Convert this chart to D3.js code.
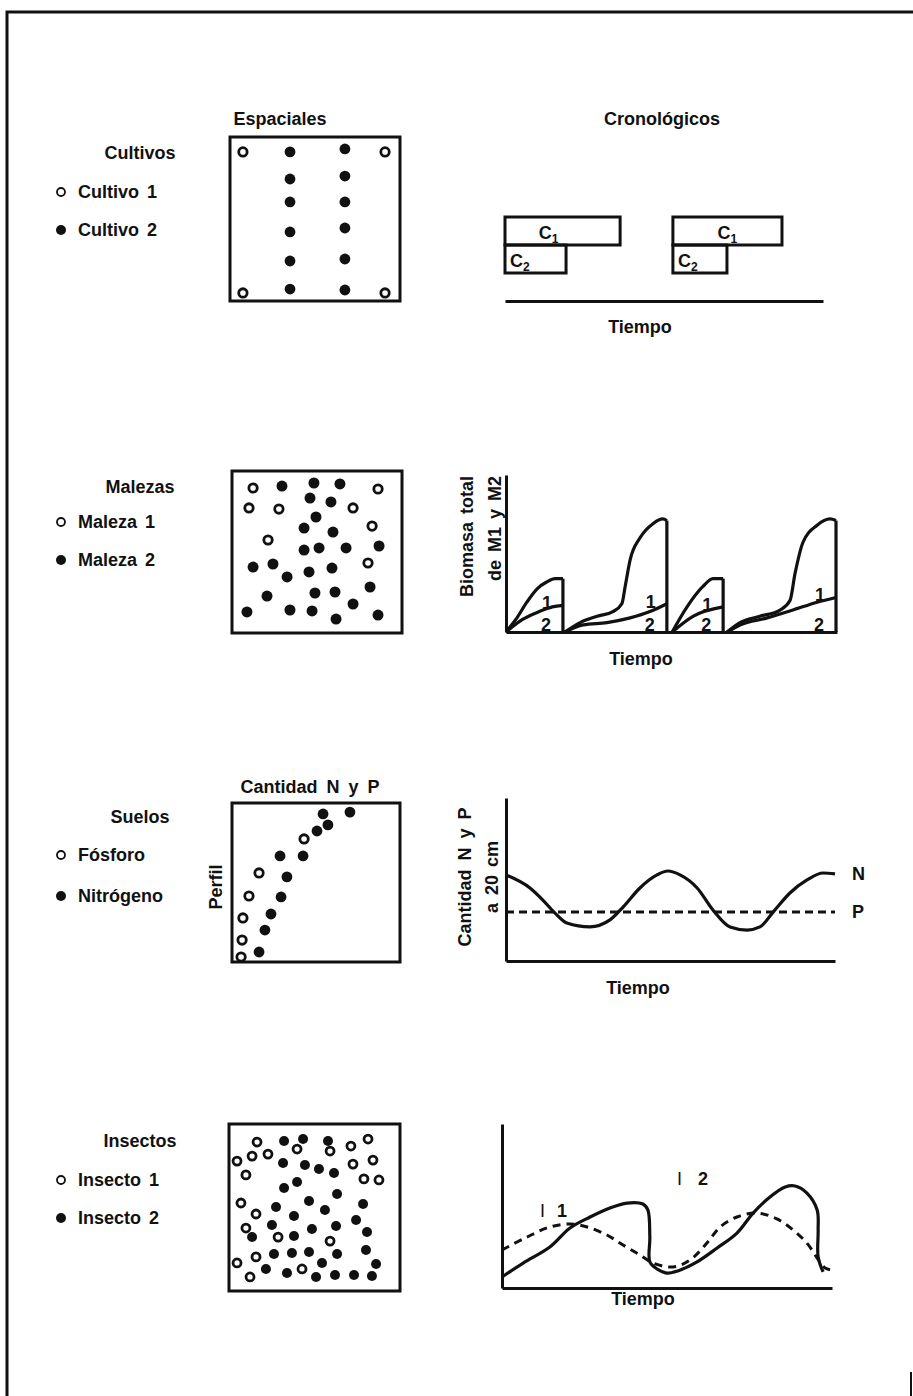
<!DOCTYPE HTML>
<html lang="es">
<head>
    <meta charset="utf-8" />
    <title>Patrones espaciales y cronológicos</title>
    <style>
        body { margin: 0; background: #fff; }
        svg text { font-family: 'Liberation Sans', Arial, sans-serif; font-weight: bold; font-size: 18px; fill: #111; }
    </style>
</head>
<body>
<div id="playD3"></div>
<script src="https://d3js.org/d3.v7.min.js"></script>
<script>
    // ---- data ----
    const rowTitles = ['Cultivos', 'Malezas', 'Suelos', 'Insectos'];
    const openNames = ['Cultivo 1', 'Maleza 1', 'Fósforo', 'Insecto 1'];
    const filledNames = ['Cultivo 2', 'Maleza 2', 'Nitrógeno', 'Insecto 2'];

    // Cultivos, spatial arrangement (0-100 plot units)
    const cultivo1 = [[7.6, 90.9], [91.2, 90.9], [7.6, 4.9], [91.2, 4.9]];
    const cultivo2 = [[35.3, 90.9], [35.3, 74.4], [35.3, 60.4], [35.3, 42.1], [35.3, 24.4], [35.3, 7.3],
                      [67.6, 92.7], [67.6, 76.2], [67.6, 60.4], [67.6, 44.5], [67.6, 25.6], [67.6, 6.7]];
    // Cultivos, calendar (time units 0-100)
    const cropNames = ['C1', 'C2'];
    const c1Start = [0, 52.8];
    const c1End = [36.2, 87.1];
    const c2Start = [0, 52.8];
    const c2End = [19.2, 69.8];

    // Malezas, spatial
    const maleza1 = [[12.4, 89.5], [85.9, 88.9], [10, 77.2], [27.6, 76.5], [71.2, 77.2], [82.4, 66], [21.2, 57.4], [80, 43.2]];
    const maleza2 = [[29.4, 90.7], [48.2, 92.6], [63.5, 92], [45.9, 83.3], [58.2, 80.9], [49.4, 71.6], [42.4, 64.8],
                     [59.4, 62.3], [42.4, 51.2], [51.2, 52.5], [67.1, 52.5], [86.5, 53.7], [12.4, 40.7], [24.1, 42.6],
                     [32.4, 34.6], [45.3, 37.7], [58.8, 40.1], [81.2, 28.4], [20.6, 22.8], [48.8, 24.7], [60.6, 25.3],
                     [71.2, 17.9], [8.8, 13], [34.1, 14.2], [47.1, 13.6], [61.2, 8.6], [85.9, 11.1]];
    // Malezas, biomass per cycle: total M1+M2 and M2
    const totalCycle1 = [[0, 0], [3.3, 9], [6.3, 19], [9.4, 27.5], [12.4, 32], [14.8, 34], [17.2, 34]];
    const m2Cycle1 = [[0, 0], [5, 8], [10, 13], [14, 16], [17.2, 17]];
    const totalCycle2 = [[17.8, 0], [22.4, 6], [27.5, 10], [32.3, 13], [35, 18], [36, 29], [37.5, 46], [40.5, 60], [44.4, 69], [47.4, 72], [48.6, 71]];
    const m2Cycle2 = [[17.8, 0], [23.3, 4.5], [30.5, 6], [37.5, 9], [43.5, 13], [48.6, 18]];
    const totalCycle3 = [[50.2, 0], [54.7, 16], [59.5, 29], [62.5, 34], [65.6, 34]];
    const m2Cycle3 = [[50.2, 0], [56.5, 10], [65.6, 16]];
    const totalCycle4 = [[66.8, 0], [70.7, 6], [76.7, 10], [82.8, 14], [85.8, 20], [87.3, 37], [89.7, 57], [94, 68], [97.9, 72], [99.7, 71]];
    const m2Cycle4 = [[66.8, 0], [70.7, 4.5], [78.9, 9], [86.7, 14], [94, 19], [99.7, 22]];

    // Suelos, profile (amount vs depth)
    const fosforo = [[5.4, 3.1], [6, 13.8], [6.5, 27.7], [10.1, 41.5], [16.1, 56], [42.9, 77.4]];
    const nitrogeno = [[16.1, 6.3], [19.6, 20.1], [23.2, 30.2], [29.2, 40.9], [32.7, 53.5], [28.6, 66.7], [42.3, 66.7],
                       [50.6, 82.4], [57.1, 86.2], [54.2, 93.1], [70.2, 94.3]];
    // Suelos, amount at 20 cm over time
    const nTime = [0, 7.3, 11.2, 14.9, 18.5, 25.5, 31.6, 35.6, 40.7, 45.9, 49.2, 52.9, 58.1, 62.9, 68.1, 73.3, 77.2, 81.2, 86.3, 91.5, 96.4, 100];
    const nAmount = [52.8, 44.8, 37.4, 29.4, 23.3, 20.9, 25.2, 33.1, 44.8, 52.8, 55.2, 52.8, 44.8, 31.3, 20.9, 19, 20.9, 30, 41.7, 49.7, 54, 53.4];
    const pTime = [0, 100];
    const pAmount = [30, 30];

    // Insectos, spatial
    const insecto1 = [[16.4, 89.2], [4.7, 77.8], [13.5, 80.8], [22.8, 82], [9.9, 69.5], [39.8, 85], [59.1, 83.8], [71.3, 86.8],
                      [81.3, 91], [84.2, 78.4], [72.5, 76], [78.9, 67.1], [87.7, 66.5], [7, 52.7], [15.8, 46.1], [9.9, 37.7],
                      [28.7, 32.3], [59.1, 29.9], [15.8, 20.4], [4.7, 16.8], [12.3, 8.4], [42.7, 13.2]];
    const insecto2 = [[32.2, 89.8], [43.3, 91], [57.9, 89.8], [31.6, 76.6], [44.4, 75.4], [52.6, 73.1], [61.4, 70.7], [39.8, 65.3],
                      [32.2, 61.7], [63.2, 58.1], [46.8, 53.9], [78.4, 52.1], [27.5, 50.3], [56.1, 48.5], [38, 44.9], [74.3, 42.5],
                      [25.1, 39.5], [62.6, 38.9], [48.5, 37.1], [80.7, 35.3], [13.5, 32.3], [38, 32.9], [26.3, 22.2], [36.8, 22.8],
                      [46.8, 23.4], [63.2, 22.2], [80.1, 24.6], [54.4, 16.8], [86, 16.2], [21.6, 13.2], [33.9, 10.8], [50.9, 8.4],
                      [62, 9.6], [73.1, 9.6], [83.6, 9]];
    // Insectos, population over time
    const poblacion1 = [[0, 6.7], [6.4, 15.2], [14.5, 25], [20.6, 36.6], [26.7, 43.3], [32.7, 48.8], [37.9, 51.8], [42.7, 51.2],
                        [44.2, 47.6], [44.8, 31.1], [44.8, 15.9], [47, 11.6], [50, 9.1], [53.3, 10.4], [59.1, 15.9], [65.2, 24.4],
                        [71.2, 33.5], [76.1, 45.7], [81.2, 55.5], [85.8, 61.6], [88.8, 62.2], [92.4, 57.9], [95.5, 47.6],
                        [95.8, 35.4], [95.8, 18.9], [97.3, 9.8]];
    const poblacion2 = [[0, 23.2], [7.6, 31.1], [14.5, 37.2], [20.6, 39], [25.8, 37.2], [31.8, 32.3], [36.7, 26.2], [41.8, 20.1],
                        [45.8, 15.2], [51.8, 12.8], [57, 17.1], [62.1, 27.4], [66.1, 37.2], [71.2, 43.3], [77.3, 45.7], [83.3, 42.1],
                        [88.2, 35.4], [92.4, 27.4], [95.5, 18.3], [97.9, 12.2], [100, 11]];

    // ---- layout ----
    const width = 913;
    const height = 1396;
    const ink = '#111';
    const titleY = [159, 493, 823, 1147];
    const openY = [192, 522, 855, 1180];
    const filledY = [230, 560, 896, 1218];
    const boxes = [
        { x0: 230, x1: 400, y0: 137, y1: 301 },
        { x0: 232, x1: 402, y0: 471, y1: 633 },
        { x0: 232, x1: 400, y0: 803, y1: 962 },
        { x0: 229, x1: 400, y0: 1124, y1: 1291 }
    ];

    const svg = d3.select('#playD3')
        .append('svg')
        .attr('width', width)
        .attr('height', height);

    svg.append('rect').attr('width', width).attr('height', height).attr('fill', '#fff');

    // page frame
    svg.append('path')
        .attr('d', `M7,${height}V12H${width}`)
        .attr('fill', 'none').attr('stroke', ink).attr('stroke-width', 3);
    svg.append('path')
        .attr('d', `M911,1372V${height}`)
        .attr('fill', 'none').attr('stroke', ink).attr('stroke-width', 2);

    // left legends
    rowTitles.forEach((t, i) => {
        svg.append('text').attr('x', 140).attr('y', titleY[i]).attr('text-anchor', 'middle').text(t);
        svg.append('circle').attr('cx', 61).attr('cy', openY[i]).attr('r', 4)
            .attr('fill', '#fff').attr('stroke', ink).attr('stroke-width', 1.8);
        svg.append('text').attr('x', 78).attr('y', openY[i] + 6).attr('word-spacing', 3).text(openNames[i]);
        svg.append('circle').attr('cx', 61).attr('cy', filledY[i]).attr('r', 5).attr('fill', ink);
        svg.append('text').attr('x', 78).attr('y', filledY[i] + 6).attr('word-spacing', 3).text(filledNames[i]);
    });

    svg.append('text').attr('x', 280).attr('y', 125).attr('text-anchor', 'middle').text('Espaciales');
    svg.append('text').attr('x', 662).attr('y', 125).attr('text-anchor', 'middle').text('Cronológicos');

    // squares with dots
    function square(i, openPts, filledPts, rOpen, rFill) {
        const b = boxes[i];
        const sx = d3.scaleLinear().domain([0, 100]).range([b.x0, b.x1]);
        const sy = d3.scaleLinear().domain([0, 100]).range([b.y1, b.y0]);
        const g = svg.append('g');
        g.append('rect')
            .attr('x', b.x0).attr('y', b.y0)
            .attr('width', b.x1 - b.x0).attr('height', b.y1 - b.y0)
            .attr('fill', 'none').attr('stroke', ink).attr('stroke-width', 3);
        g.selectAll('.open')
            .data(openPts)
            .enter()
            .append('circle')
            .attr('class', 'open')
            .attr('cx', d => sx(d[0]))
            .attr('cy', d => sy(d[1]))
            .attr('r', rOpen)
            .attr('fill', '#fff').attr('stroke', ink).attr('stroke-width', 2.8);
        g.selectAll('.filled')
            .data(filledPts)
            .enter()
            .append('circle')
            .attr('class', 'filled')
            .attr('cx', d => sx(d[0]))
            .attr('cy', d => sy(d[1]))
            .attr('r', rFill)
            .attr('fill', ink);
        return b;
    }

    square(0, cultivo1, cultivo2, 4.2, 5.4);
    square(1, maleza1, maleza2, 4.2, 5.5);
    square(2, fosforo, nitrogeno, 4.2, 5.4);
    square(3, insecto1, insecto2, 4, 5);

    svg.append('text').attr('x', 310).attr('y', 793).attr('text-anchor', 'middle').attr('word-spacing', 4).text('Cantidad N y P');
    svg.append('text')
        .attr('transform', `translate(222, 887) rotate(-90)`)
        .attr('text-anchor', 'middle')
        .text('Perfil');

    function axes(x, y) {
        const g = svg.append('g');
        g.append('g')
            .attr('transform', `translate(0, ${y.range()[0]})`)
            .call(d3.axisBottom(x).tickValues([]).tickSizeOuter(0));
        g.append('g')
            .attr('transform', `translate(${x.range()[0]}, 0)`)
            .call(d3.axisLeft(y).tickValues([]).tickSizeOuter(0));
        g.selectAll('.domain').attr('stroke', ink).attr('stroke-width', 3);
        return g;
    }

    function tiempo(x, y) {
        svg.append('text').attr('x', x).attr('y', y).attr('text-anchor', 'middle').text('Tiempo');
    }

    function cLabel(x, y, sub, anchor) {
        const t = svg.append('text').attr('x', x).attr('y', y).attr('text-anchor', anchor);
        t.append('tspan').text('C');
        t.append('tspan').attr('font-size', 12).attr('dy', 4).text(sub);
    }

    // ---- chart 1: crop calendar ----
    const x1 = d3.scaleLinear().domain([0, 100]).range([505, 823]);
    const yCrop = d3.scaleBand().domain(cropNames).range([217, 273]);

    c1Start.forEach((s, i) => {
        svg.append('rect')
            .attr('x', x1(s)).attr('y', yCrop('C1'))
            .attr('width', x1(c1End[i]) - x1(s)).attr('height', yCrop.bandwidth())
            .attr('fill', 'none').attr('stroke', ink).attr('stroke-width', 3);
        svg.append('rect')
            .attr('x', x1(c2Start[i])).attr('y', yCrop('C2'))
            .attr('width', x1(c2End[i]) - x1(c2Start[i])).attr('height', yCrop.bandwidth())
            .attr('fill', 'none').attr('stroke', ink).attr('stroke-width', 3);
        cLabel((x1(s) + x1(c1End[i])) / 2 - (i === 0 ? 14 : 0), yCrop('C1') + 22, '1', 'middle');
        cLabel(x1(c2Start[i]) + 5, yCrop('C2') + 22, '2', 'start');
    });

    svg.append('g')
        .attr('transform', 'translate(0, 301)')
        .call(d3.axisBottom(x1).tickValues([]).tickSizeOuter(0))
        .selectAll('.domain').attr('stroke', ink).attr('stroke-width', 3);
    tiempo(640, 333);

    // ---- chart 2: weed biomass ----
    const x2 = d3.scaleLinear().domain([0, 100]).range([506, 837]);
    const y2 = d3.scaleLinear().domain([0, 100]).range([632, 475]);
    const lineSmooth2 = d3.line().x(d => x2(d[0])).y(d => y2(d[1])).curve(d3.curveMonotoneX);
    const malezaCycles = [
        { total: totalCycle1, m2: m2Cycle1 },
        { total: totalCycle2, m2: m2Cycle2 },
        { total: totalCycle3, m2: m2Cycle3 },
        { total: totalCycle4, m2: m2Cycle4 }
    ];
    malezaCycles.forEach(c => {
        const last = c.total[c.total.length - 1];
        const lastM2 = c.m2[c.m2.length - 1];
        svg.append('path').attr('d', lineSmooth2(c.total))
            .attr('fill', 'none').attr('stroke', ink).attr('stroke-width', 3.2).attr('stroke-linejoin', 'round');
        svg.append('path').attr('d', d3.line()([[x2(last[0]), y2(last[1])], [x2(last[0]), y2(0)]]))
            .attr('fill', 'none').attr('stroke', ink).attr('stroke-width', 3.2);
        svg.append('path').attr('d', lineSmooth2(c.m2))
            .attr('fill', 'none').attr('stroke', ink).attr('stroke-width', 3.2);
        svg.append('text').attr('x', x2(last[0]) - 16).attr('y', y2(lastM2[1]) + 4).attr('text-anchor', 'middle').text('1');
        svg.append('text').attr('x', x2(last[0]) - 17).attr('y', y2(0) - 1).attr('text-anchor', 'middle').text('2');
    });
    axes(x2, y2);
    svg.append('text').attr('transform', 'translate(473, 476) rotate(-90)').attr('text-anchor', 'end').attr('word-spacing', 3).text('Biomasa total');
    svg.append('text').attr('transform', 'translate(501, 476) rotate(-90)').attr('text-anchor', 'end').attr('word-spacing', 3).text('de M1 y M2');
    tiempo(641, 665);

    // ---- chart 3: N and P at 20 cm ----
    const x3 = d3.scaleLinear().domain([0, 100]).range([506, 835]);
    const y3 = d3.scaleLinear().domain([0, 100]).range([961, 798]);
    const line3 = d3.line().x(d => x3(d[0])).y(d => y3(d[1])).curve(d3.curveMonotoneX);
    svg.append('path').attr('d', line3(pTime.map((t, i) => [t, pAmount[i]])))
        .attr('fill', 'none').attr('stroke', ink).attr('stroke-width', 3).attr('stroke-dasharray', '8,5');
    svg.append('path').attr('d', line3(nTime.map((t, i) => [t, nAmount[i]])))
        .attr('fill', 'none').attr('stroke', ink).attr('stroke-width', 3.2);
    axes(x3, y3);
    svg.append('text').attr('x', x3(100) + 17).attr('y', y3(nAmount[nAmount.length - 1]) + 6).text('N');
    svg.append('text').attr('x', x3(100) + 17).attr('y', y3(pAmount[1]) + 6).text('P');
    svg.append('text').attr('transform', 'translate(471, 877) rotate(-90)').attr('text-anchor', 'middle').attr('word-spacing', 4).text('Cantidad N y P');
    svg.append('text').attr('transform', 'translate(498, 877) rotate(-90)').attr('text-anchor', 'middle').attr('word-spacing', 3).text('a 20 cm');
    tiempo(638, 994);

    // ---- chart 4: insect populations ----
    const x4 = d3.scaleLinear().domain([0, 100]).range([502, 832]);
    const y4 = d3.scaleLinear().domain([0, 100]).range([1288, 1124]);
    const line4 = d3.line().x(d => x4(d[0])).y(d => y4(d[1])).curve(d3.curveCatmullRom.alpha(0.5));
    svg.append('path').attr('d', line4(poblacion2))
        .attr('fill', 'none').attr('stroke', ink).attr('stroke-width', 3).attr('stroke-dasharray', '8,6');
    svg.append('path').attr('d', line4(poblacion1))
        .attr('fill', 'none').attr('stroke', ink).attr('stroke-width', 3.2).attr('stroke-linejoin', 'round');
    axes(x4, y4);
    const lab1 = svg.append('text').attr('x', x4(11.5)).attr('y', y4(43.3));
    lab1.append('tspan').attr('font-weight', 'normal').text('I');
    lab1.append('tspan').attr('dx', 12).text('1');
    const lab2 = svg.append('text').attr('x', x4(53)).attr('y', y4(62.8));
    lab2.append('tspan').attr('font-weight', 'normal').text('I');
    lab2.append('tspan').attr('dx', 16).text('2');
    tiempo(643, 1305);
</script>
</body>
</html>
